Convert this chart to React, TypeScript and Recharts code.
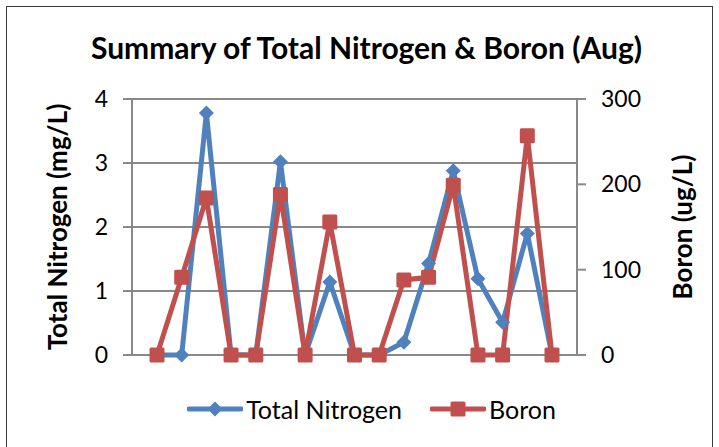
import React from "react";
import { LineChart, Line, XAxis, YAxis, CartesianGrid, Legend } from "recharts";

// sample sites (no labels shown on the axis)
const sites = ["1", "2", "3", "4", "5", "6", "7", "8", "9", "10", "11", "12", "13", "14", "15", "16", "17"];
const nitrogen = [0, 0, 3.78, 0, 0, 3.02, 0, 1.14, 0, 0, 0.2, 1.43, 2.88, 1.19, 0.51, 1.9, 0];
const boron = [0, 91, 184, 0, 0, 188, 0, 156, 0, 0, 88, 91, 199, 0, 0, 257, 0];
const leftTicks = [0, 1, 2, 3, 4];
const rightTicks = [0, 100, 200, 300];

const data = sites.map((site, i) => ({ site, nitrogen: nitrogen[i], boron: boron[i] }));

const BLUE = "#4F81BD";
const RED = "#C0504D";
const GRID = "#898989";
const FONT = "Lato, 'Open Sans', sans-serif";

const Diamond = (props: any) => {
  const { cx, cy, fill } = props;
  if (cx == null || cy == null) return null;
  const r = 7.5;
  return <path d={`M${cx},${cy - r}L${cx + r},${cy}L${cx},${cy + r}L${cx - r},${cy}Z`} fill={fill} />;
};

const Square = (props: any) => {
  const { cx, cy, fill } = props;
  if (cx == null || cy == null) return null;
  const s = 7.5;
  return <rect x={cx - s} y={cy - s} width={s * 2} height={s * 2} rx={1.5} fill={fill} />;
};

const series = [
  { key: "nitrogen", name: "Total Nitrogen", color: BLUE, marker: Diamond },
  { key: "boron", name: "Boron", color: RED, marker: Square },
];

const LegendContent = () => (
  <div style={{ display: "flex", justifyContent: "center", alignItems: "center", fontFamily: FONT, fontSize: 25, color: "#000" }}>
    {series.map((s, i) => {
      const M = s.marker;
      return (
        <div key={s.key} style={{ display: "flex", alignItems: "center", marginLeft: i ? 28 : 0 }}>
          <svg width={56} height={20}>
            <line x1={2} y1={10} x2={54} y2={10} stroke={s.color} strokeWidth={5} strokeLinecap="round" />
            <M cx={28} cy={10} fill={s.color} />
          </svg>
          <span style={{ marginLeft: 3 }}>{s.name}</span>
        </div>
      );
    })}
  </div>
);

export default function App() {
  return (
    <div style={{ position: "relative", width: 719, height: 447, background: "#fff", overflow: "hidden" }}>
      <style>{`body{margin:0}`}</style>
      <div
        style={{
          position: "absolute",
          left: 6,
          top: 6,
          width: 707,
          height: 460,
          border: "1.5px solid #3a3a3a",
          boxSizing: "border-box",
        }}
      />
      <div
        style={{
          position: "absolute",
          top: 29,
          left: 7,
          width: 719,
          textAlign: "center",
          fontFamily: FONT,
          fontWeight: 700,
          fontSize: 30,
          lineHeight: "36px",
          color: "#000",
        }}
      >
        Summary of Total Nitrogen &amp; Boron (Aug)
      </div>
      <div style={{ position: "absolute", left: 0, top: 0 }}>
        <LineChart width={719} height={447} data={data} margin={{ top: 99, right: 62, bottom: 92, left: 52 }}>
          <CartesianGrid yAxisId="left" vertical={false} stroke={GRID} strokeWidth={2} />
          <XAxis dataKey="site" hide padding={{ left: 25, right: 25 }} />
          <YAxis
            yAxisId="left"
            width={80}
            domain={[0, 4]}
            ticks={leftTicks}
            axisLine={{ stroke: GRID, strokeWidth: 2 }}
            tickLine={{ stroke: GRID, strokeWidth: 2 }}
            tickSize={9}
            tickMargin={15}
            tick={{ fill: "#000", fontSize: 23, fontFamily: FONT }}
            label={{
              value: "Total Nitrogen (mg/L)",
              angle: -90,
              position: "center",
              dx: -34,
              style: { fontFamily: FONT, fontWeight: 700, fontSize: 26, fill: "#000", textAnchor: "middle" },
            }}
          />
          <YAxis
            yAxisId="right"
            orientation="right"
            width={80}
            domain={[0, 300]}
            ticks={rightTicks}
            axisLine={{ stroke: GRID, strokeWidth: 2 }}
            tickLine={{ stroke: GRID, strokeWidth: 2 }}
            tickSize={9}
            tickMargin={15}
            tick={{ fill: "#000", fontSize: 23, fontFamily: FONT }}
            label={{
              value: "Boron  (ug/L)",
              angle: -90,
              position: "center",
              dx: 66,
              style: { fontFamily: FONT, fontWeight: 700, fontSize: 26, fill: "#000", textAnchor: "middle", whiteSpace: "pre" },
            }}
          />
          {series.map((s) => (
            <Line
              key={s.key}
              yAxisId={s.key === "nitrogen" ? "left" : "right"}
              dataKey={s.key}
              name={s.name}
              stroke={s.color}
              strokeWidth={5}
              strokeLinejoin="miter"
              dot={(p: any) => <s.marker key={`${s.key}-${p.index}`} cx={p.cx} cy={p.cy} fill={s.color} />}
              activeDot={false}
              isAnimationActive={false}
            />
          ))}
          <Legend
            layout="horizontal"
            verticalAlign="middle"
            align="center"
            wrapperStyle={{ top: 394, left: 12, width: 719 }}
            content={<LegendContent />}
          />
        </LineChart>
      </div>
    </div>
  );
}
